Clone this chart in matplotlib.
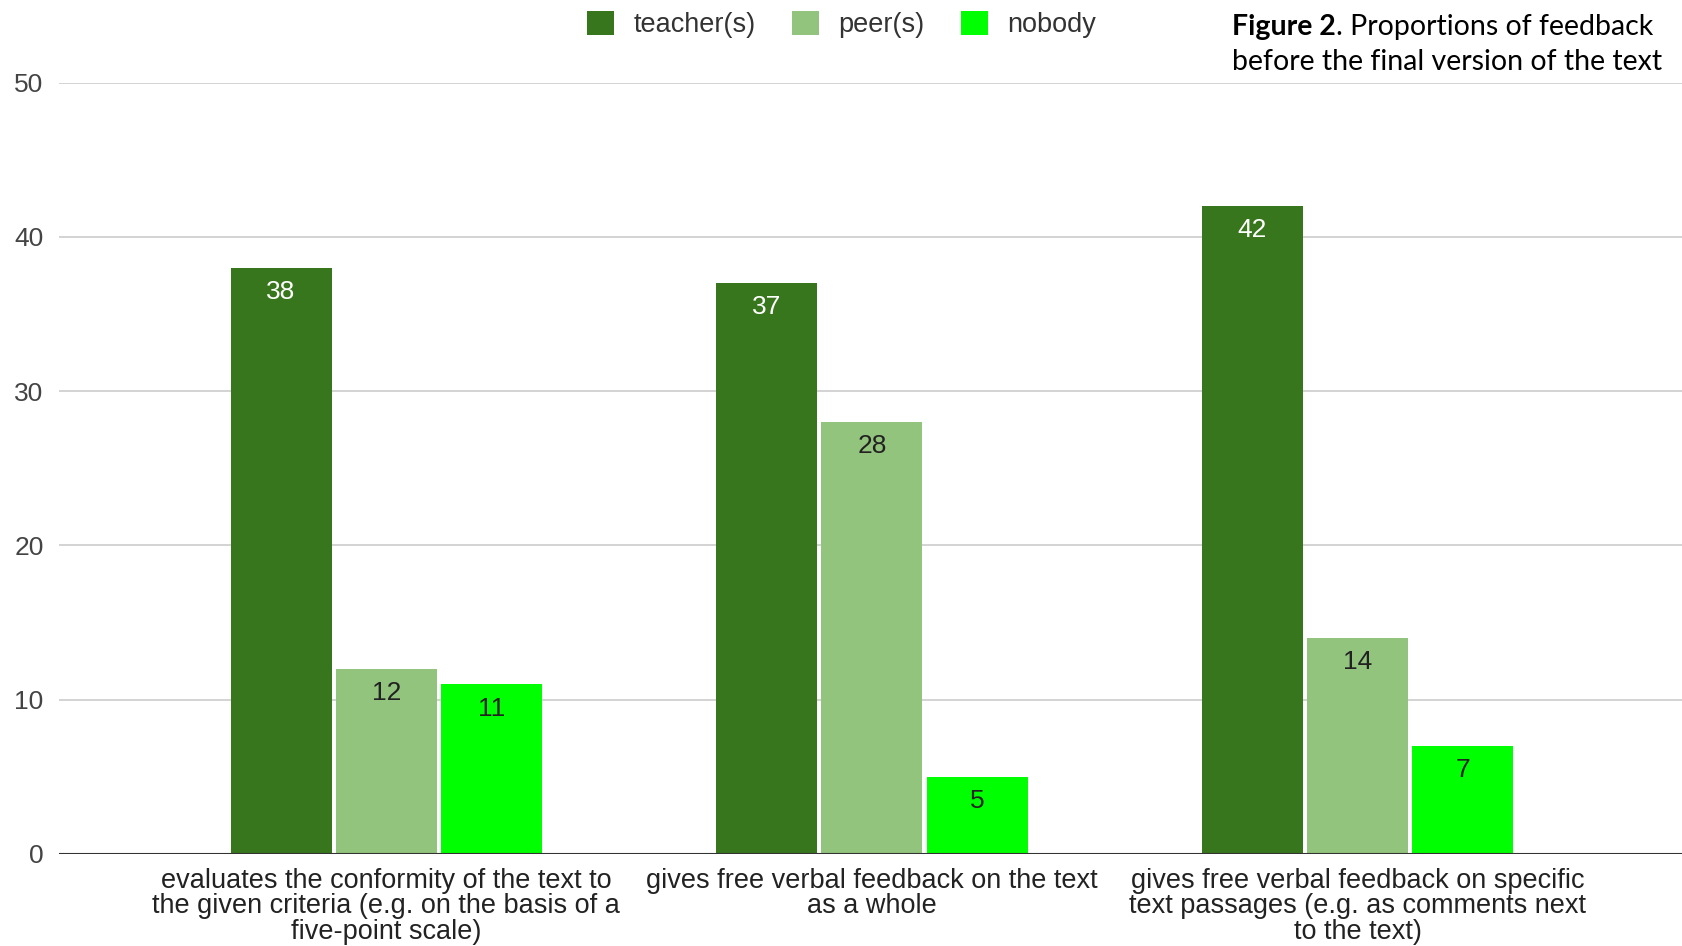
import numpy as np
import matplotlib.pyplot as plt

# Datos del grafico
categories = [
    "evaluates the conformity of the text to\nthe given criteria (e.g. on the basis of a\nfive-point scale)",
    "gives free verbal feedback on the text\nas a whole",
    "gives free verbal feedback on specific\ntext passages (e.g. as comments next\nto the text)",
]
series_names = ["teacher(s)", "peer(s)", "nobody"]
teacher = [38, 37, 42]
peer = [12, 28, 14]
nobody = [11, 5, 7]
y_ticks = [0, 10, 20, 30, 40, 50]

colors = ["#38761d", "#93c47d", "#00ff00"]
label_colors = ["white", "#222222", "#222222"]

plt.rcParams['font.family'] = ['Liberation Sans', 'DejaVu Sans']

fig = plt.figure(figsize=(16.83, 9.46), dpi=100)
ax = fig.add_axes([0.035, 0.0973, 0.965, 0.8154])

x = np.arange(len(categories))
width = 0.208
step = 0.2165
for i, (name, vals) in enumerate(zip(series_names, [teacher, peer, nobody])):
    pos = x + (i - 1) * step
    ax.bar(pos, vals, width=width, color=colors[i], label=name, zorder=3)
    for px, v in zip(pos, vals):
        ax.annotate(str(v), xy=(px, v), xytext=(0, -17.5), textcoords='offset points',
                    ha='center', va='center', fontsize=19, color=label_colors[i], zorder=4)

ax.set_xlim(-0.674, 2.67)
ax.set_ylim(0, 50)
ax.set_yticks(y_ticks)
ax.set_xticks(x)
ax.set_xticklabels(categories, fontsize=19.5, color='#222222', linespacing=0.98)
ax.tick_params(axis='x', length=0, pad=10)
ax.tick_params(axis='y', length=0, pad=11, labelsize=19, labelcolor='#444444')
ax.grid(axis='y', color='#cccccc', linewidth=1.2, zorder=0)
ax.axhline(0, color='#333333', linewidth=1.5, zorder=5)
for s in ax.spines.values():
    s.set_visible(False)

fig.legend(loc='center', bbox_to_anchor=(0.5, 0.974), ncol=3, frameon=False,
           fontsize=19.5, handlelength=1.0, handleheight=1.0, handletextpad=0.7,
           columnspacing=1.35, labelcolor='#333333')

# Titulo con parte en negrita
t1 = fig.text(0.732, 0.963, "Figure 2", fontsize=20.5, fontweight='bold',
              family=['Lato', 'DejaVu Sans'], va='baseline', ha='left')
fig.canvas.draw()
fig.text(0.732, 0.926, "before the final version of the text", fontsize=20.5,
         family=['Lato', 'DejaVu Sans'], va='baseline', ha='left')
ax.annotate(". Proportions of feedback", xy=(1, 0), xycoords=t1, va='bottom', ha='left',
            fontsize=20.5, family=['Lato', 'DejaVu Sans'], annotation_clip=False)

fig.savefig("out.png", dpi=100, facecolor='white')
